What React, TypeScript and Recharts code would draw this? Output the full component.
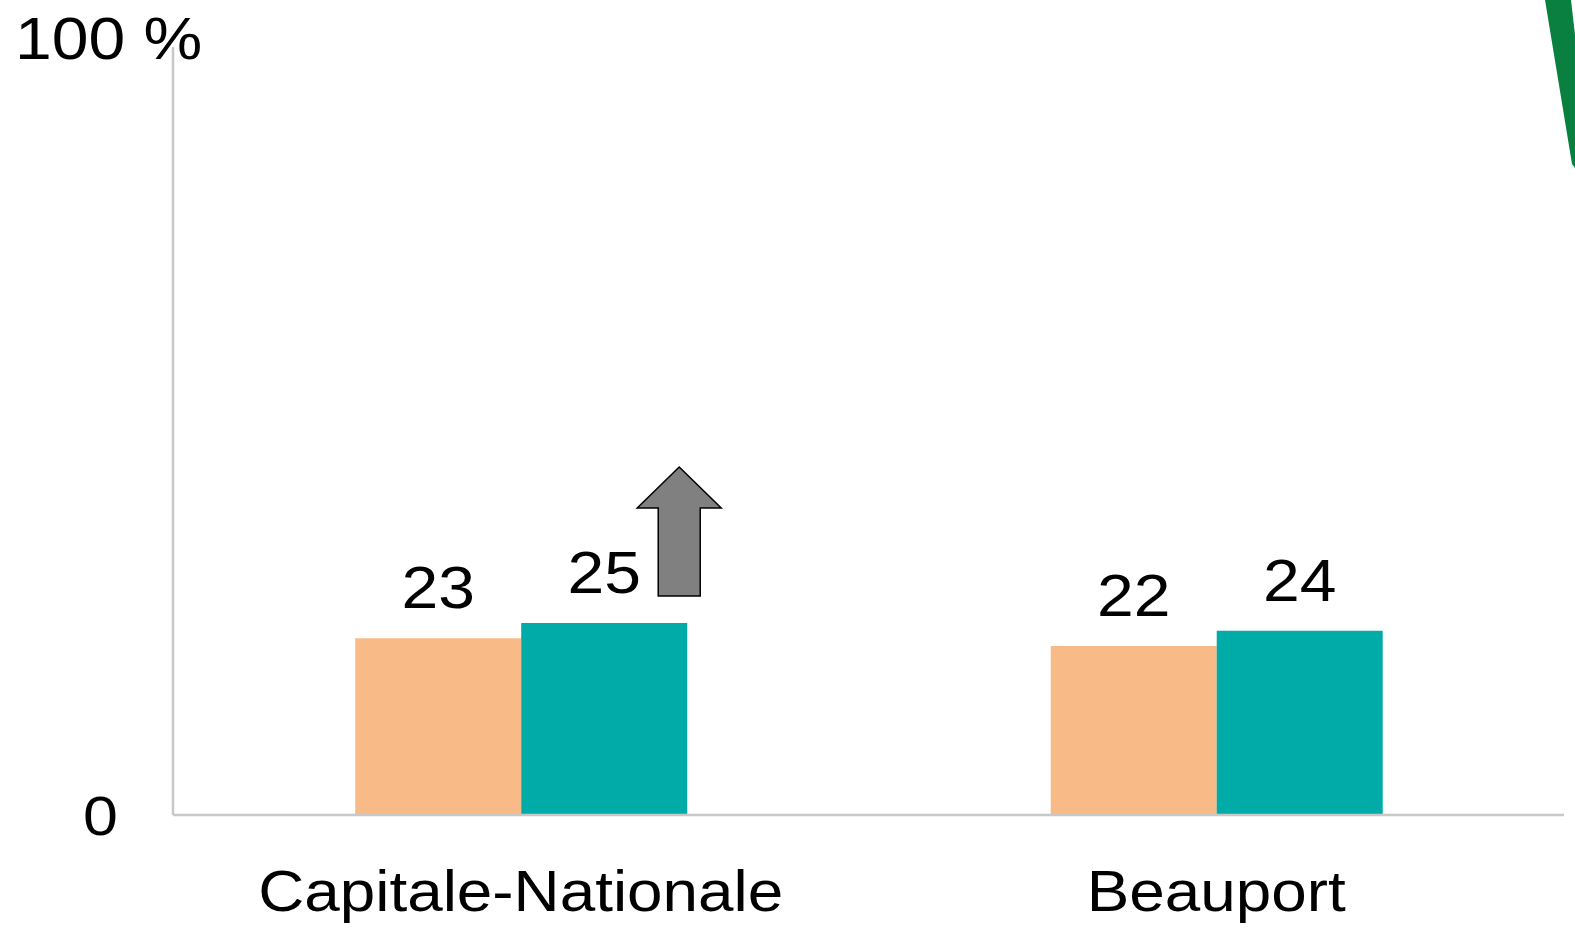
import React from "react";
import { BarChart, Bar, XAxis, YAxis, LabelList } from "recharts";

const categories = ["Capitale-Nationale", "Beauport"];
const seriesEarlier = [23, 22];
const seriesLater = [25, 24];
const increaseFlags = [true, false];
const yTicks = [0, 100];
const yTickLabels = ["0", "100 %"];

const data = categories.map((name, i) => ({
  name,
  earlier: seriesEarlier[i],
  later: seriesLater[i],
}));

const FONT = '"Liberation Sans", Arial, sans-serif';
const STRETCH = 1.12;

const XTick = (props: any) => {
  const { x, y, payload } = props;
  return (
    <text
      transform={`translate(${x} ${y + 96}) scale(${STRETCH} 1)`}
      textAnchor="middle"
      fontFamily={FONT}
      fontSize={57}
      fill="#000"
    >
      {payload.value}
    </text>
  );
};

const YTick = (props: any) => {
  const { x, y, payload } = props;
  const idx = yTicks.indexOf(payload.value);
  const label = yTickLabels[idx];
  if (payload.value === 0) {
    return (
      <text
        transform={`translate(${x - 55} ${y + 20}) scale(${STRETCH} 1)`}
        textAnchor="end"
        fontFamily={FONT}
        fontSize={56}
        fill="#000"
      >
        {label}
      </text>
    );
  }
  return (
    <text
      transform={`translate(${x - 158} ${y + 12}) scale(${STRETCH} 1)`}
      textAnchor="start"
      fontFamily={FONT}
      fontSize={59}
      fill="#000"
    >
      {label}
    </text>
  );
};

const valueLabel = (withArrow: boolean) => (props: any) => {
  const { x, y, width, value, index } = props;
  const cx = x + width / 2;
  const showArrow = withArrow && increaseFlags[index];
  const ax = x + width - 8;
  return (
    <g>
      <text
        transform={`translate(${cx} ${y - 30}) scale(${STRETCH} 1)`}
        textAnchor="middle"
        fontFamily={FONT}
        fontSize={59}
        fill="#000"
      >
        {value}
      </text>
      {showArrow && (
        <polygon
          points={[
            [ax, y - 156],
            [ax + 42, y - 115],
            [ax + 21, y - 115],
            [ax + 21, y - 27],
            [ax - 21, y - 27],
            [ax - 21, y - 115],
            [ax - 42, y - 115],
          ]
            .map((p) => p.join(","))
            .join(" ")}
          fill="#808080"
          stroke="#000"
          strokeWidth={1.5}
        />
      )}
    </g>
  );
};

export default function App() {
  return (
    <div style={{ position: "absolute", left: 0, top: 0, width: 1575, height: 928, background: "#fff", overflow: "hidden" }}>
      <BarChart
        width={1575}
        height={928}
        data={data}
        margin={{ top: 47, right: 11, bottom: 0, left: 0 }}
        barCategoryGap="26.2%"
        barGap={0}
      >
        <XAxis
          dataKey="name"
          height={113}
          axisLine={{ stroke: "#C8C8C8", strokeWidth: 2.5 }}
          tickLine={false}
          tickSize={0}
          tickMargin={0}
          tick={<XTick />}
          interval={0}
        />
        <YAxis
          width={173}
          domain={[0, 100]}
          ticks={yTicks}
          axisLine={{ stroke: "#C8C8C8", strokeWidth: 2.5 }}
          tickLine={false}
          tickSize={0}
          tickMargin={0}
          tick={<YTick />}
        />
        <Bar dataKey="earlier" fill="#F8BA87" isAnimationActive={false}>
          <LabelList dataKey="earlier" content={valueLabel(false)} />
        </Bar>
        <Bar dataKey="later" fill="#00ABA8" isAnimationActive={false}>
          <LabelList dataKey="later" content={valueLabel(true)} />
        </Bar>
      </BarChart>
      <svg
        width={1575}
        height={928}
        style={{ position: "absolute", left: 0, top: 0, pointerEvents: "none" }}
      >
        <polygon points="1545,0 1571,0 1575,35 1575,168 1572,164" fill="#0A8040" />
      </svg>
    </div>
  );
}
